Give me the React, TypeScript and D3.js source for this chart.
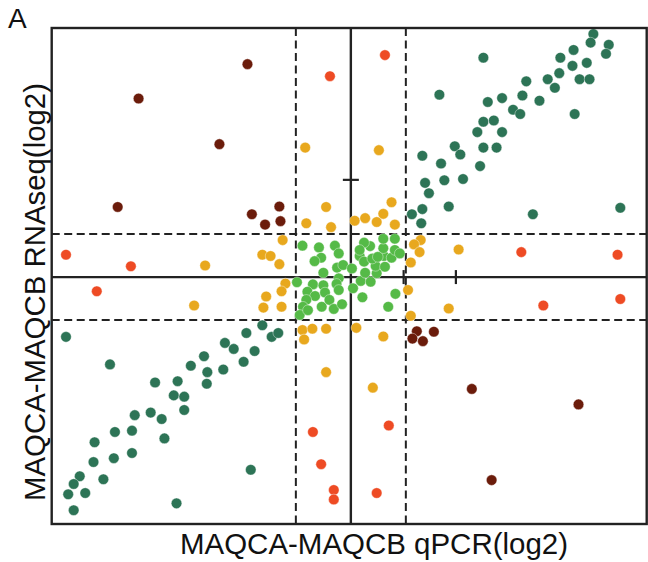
import * as d3 from "d3";

// log2 fold changes, [qPCR, RNAseq]
const darkGreen: [number, number][] = [
  [4.41, 5.65], [4.36, 5.45], [4.69, 5.4], [4.64, 5.19], [4.05, 5.28], [3.81, 5.1],
  [4.29, 4.98], [4.03, 4.91], [3.79, 4.74], [3.58, 4.6], [4.16, 4.6], [4.34, 4.6],
  [3.19, 4.55], [3.71, 4.4], [1.61, 4.24], [3.12, 4.22], [2.75, 4.16], [2.49, 4.07],
  [3.43, 4.1], [2.95, 3.89], [3.08, 3.79], [4.07, 3.79], [2.41, 3.61], [2.6, 3.64],
  [2.3, 3.37], [2.75, 3.37], [1.89, 3.04], [2.41, 3.01], [2.65, 3.01], [1.99, 2.85],
  [1.3, 2.82], [1.64, 2.64], [2.35, 2.58], [1.35, 2.19], [1.7, 2.25], [2.04, 2.28],
  [1.42, 1.95], [1.78, 1.64], [1.3, 1.58], [1.11, 1.46], [1.28, 1.25], [3.31, 1.46],
  [4.9, 1.61], [2.41, 5.1],
  [-5.18, -1.39], [-1.61, -1.12], [-1.9, -1.3], [-1.44, -1.39], [-1.32, -1.3],
  [-2.29, -1.53], [-2.13, -1.67], [-1.75, -1.72], [-1.95, -1.97], [-2.67, -1.84],
  [-2.91, -2.06], [-2.61, -2.21], [-2.32, -2.15], [-4.38, -2.03], [-3.15, -2.42],
  [-3.56, -2.45], [-2.62, -2.48], [-3.22, -2.75], [-3.03, -2.78], [-3.03, -3.09],
  [-3.64, -3.15], [-3.93, -3.21], [-3.44, -3.3], [-3.98, -3.57], [-4.29, -3.6],
  [-3.39, -3.75], [-4.66, -3.84], [-3.98, -4.09], [-4.31, -4.21], [-4.68, -4.3],
  [-4.93, -4.63], [-4.5, -4.7], [-5.04, -4.81], [-5.14, -5.05], [-4.83, -5.02],
  [-5.04, -5.42], [-3.17, -5.26], [-1.82, -4.48],
];

const lightGreen: [number, number][] = [
  [-0.88, 0.73], [-0.58, 0.69], [-0.29, 0.73], [-0.22, 0.55], [-0.54, 0.45], [-0.66, 0.37],
  [-0.5, 0.1], [-0.25, 0.22], [-0.14, 0.28], [0.02, 0.2], [-0.22, -0.03], [-0.98, -0.12],
  [-0.69, -0.17], [-0.5, -0.19], [-0.26, -0.16], [-0.79, -0.34], [-0.65, -0.44], [-0.47, -0.36],
  [-0.22, -0.3], [0.04, -0.26], [0.18, -0.09], [0.36, -0.11], [0.26, 0.1], [0.47, 0.09],
  [0.45, 0.26], [0.62, 0.24], [0.16, 0.49], [0.24, 0.36], [0.39, 0.43], [0.6, 0.49],
  [0.74, 0.45], [0.8, 0.63], [0.89, 0.55], [0.59, 0.67], [0.35, 0.72], [0.24, 0.8],
  [0.59, 0.89], [0.8, 0.89], [-0.81, -0.53], [-0.87, -0.69], [-0.93, -0.88], [-0.78, -0.77],
  [-0.53, -0.69], [-0.39, -0.53], [-0.31, -0.74], [-0.16, -0.63], [0.21, -0.47], [0.81, -0.39],
  [0.68, -0.69], [0.49, 0.47], [0.16, 0.63],
];

const yellow: [number, number][] = [
  [-0.83, 3.01], [-0.45, 1.63], [-0.81, 1.25], [-0.36, 1.16], [-1.24, 0.86], [-1.61, 0.52],
  [-1.46, 0.49], [-1.3, 0.3], [-2.65, 0.27], [0.51, 2.95], [0.74, 1.74], [0.59, 1.47],
  [0.07, 1.31], [0.26, 1.37], [0.47, 1.28], [0.8, 1.22], [1.27, 0.86], [1.15, 0.76],
  [1.25, 0.58], [1.09, 0.34], [1.96, 0.64], [-1.19, -0.15], [-1.26, -0.33], [-1.54, -0.45],
  [-1.59, -0.71], [-1.26, -0.69], [-2.85, -0.66], [-0.88, -1.23], [-0.7, -1.2], [-0.85, -1.45],
  [-0.45, -1.2], [-0.45, -2.21], [1.04, -0.3], [1.09, -0.9], [1.78, -0.73], [0.1, -1.18],
  [0.59, -1.38], [0.4, -2.57],
];

const red: [number, number][] = [
  [-0.38, 4.67], [0.62, 5.16], [-5.18, 0.52], [-4.0, 0.25], [-4.62, -0.33], [3.1, 0.58],
  [4.85, 0.52], [3.5, -0.66], [4.9, -0.51], [-0.69, -3.6], [-0.54, -4.35], [0.69, -3.45],
  [-0.31, -4.95], [-0.31, -5.17], [0.47, -5.02],
];

const brown: [number, number][] = [
  [-1.88, 4.95], [-3.86, 4.15], [-2.39, 3.09], [-4.24, 1.63], [-1.8, 1.46], [-1.56, 1.22],
  [-1.3, 1.64], [-1.28, 1.3], [1.2, -1.26], [1.51, -1.27], [1.12, -1.43], [1.31, -1.49],
  [2.2, -2.6], [4.14, -2.96], [2.56, -4.72],
];

const groups = [
  { name: "concordant", color: "#2d7456", points: darkGreen },
  { name: "unchanged", color: "#55ba47", points: lightGreen },
  { name: "one-sided", color: "#e8a81e", points: yellow },
  { name: "discordant-1", color: "#ee4b24", points: red },
  { name: "discordant-2", color: "#6b1c0b", points: brown },
];

const cutoffs = [-1, 1];
const xTicks = [0.96, 1.91];
const yTicks = [2.26];

const xDomain: [number, number] = [-5.44, 5.38];
const yDomain: [number, number] = [-5.74, 5.79];

export default function App() {
  const width = 648;
  const height = 562;
  const margin = { top: 28, right: 1.3, bottom: 38, left: 51.7 };

  const x = d3.scaleLinear().domain(xDomain).range([margin.left, width - margin.right]);
  const y = d3.scaleLinear().domain(yDomain).range([height - margin.bottom, margin.top]);

  const lineColor = "#222";
  const [x0, x1] = x.range();
  const [y0, y1] = y.range();

  return (
    <svg
      width={width}
      height={height}
      style={{ position: "absolute", left: 0, top: 0, fontFamily: "'Liberation Sans', Arial, sans-serif" }}
    >
      <rect width={width} height={height} fill="#fff" />
      <text x={8} y={28} fontSize={28} fill="#111">A</text>

      {/* cutoff lines */}
      {cutoffs.map((c) => (
        <g key={"c" + c}>
          <line x1={x(c)} x2={x(c)} y1={y1} y2={y0} stroke={lineColor} strokeWidth={2} strokeDasharray="8,4.5" />
          <line x1={x0} x2={x1} y1={y(c)} y2={y(c)} stroke={lineColor} strokeWidth={2} strokeDasharray="8,4.5" />
        </g>
      ))}

      {/* zero lines */}
      <line x1={x(0)} x2={x(0)} y1={y1} y2={y0} stroke={lineColor} strokeWidth={2.4} />
      <line x1={x0} x2={x1} y1={y(0)} y2={y(0)} stroke={lineColor} strokeWidth={2.4} />
      {xTicks.map((t) => (
        <line key={"xt" + t} x1={x(t)} x2={x(t)} y1={y(0) - 7} y2={y(0) + 7} stroke={lineColor} strokeWidth={2.2} />
      ))}
      {yTicks.map((t) => (
        <line key={"yt" + t} x1={x(0) - 8} x2={x(0) + 8} y1={y(t)} y2={y(t)} stroke={lineColor} strokeWidth={2.2} />
      ))}

      {/* points */}
      {groups.map((g) => (
        <g key={g.name}>
          {g.points.map((p, i) => (
            <circle key={i} cx={x(p[0])} cy={y(p[1])} r={5.3} fill={g.color} stroke="#fff" strokeWidth={0.4} />
          ))}
        </g>
      ))}

      <rect x={x0} y={y1} width={x1 - x0} height={y0 - y1} fill="none" stroke={lineColor} strokeWidth={2.4} />

      <text x={374} y={554} textAnchor="middle" fontSize={29.5} fill="#111" textLength={388} lengthAdjust="spacingAndGlyphs">
        MAQCA-MAQCB qPCR(log2)
      </text>
      <text transform="translate(45,292) rotate(-90)" textAnchor="middle" fontSize={29.5} fill="#111" textLength={418} lengthAdjust="spacingAndGlyphs">
        MAQCA-MAQCB RNAseq(log2)
      </text>
    </svg>
  );
}
